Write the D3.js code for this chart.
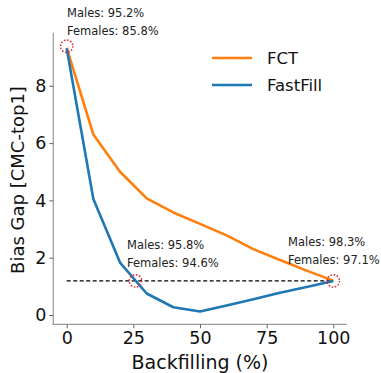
<!DOCTYPE html>
<html>
<head>
<meta charset="utf-8">
<script src="https://cdn.jsdelivr.net/npm/d3@7"></script>
<style>
  body { margin: 0; background: #fff; }
  text { font-family: "DejaVu Sans", sans-serif; }
</style>
</head>
<body>
<div id="chart"></div>
<script>
// values
var backfill = [0, 10, 20, 30, 40, 50, 60, 70, 80, 90, 100];
var fct      = [9.32, 6.3, 5.0, 4.07, 3.58, 3.18, 2.78, 2.3, 1.92, 1.55, 1.2];
var fastfill = [9.3, 4.05, 1.83, 0.75, 0.27, 0.12, 0.33, 0.55, 0.78, 0.98, 1.19];
var xTicks = [0, 25, 50, 75, 100];
var yTicks = [0, 2, 4, 6, 8];
var refGap = 1.19;
var marks = [
  {x: 0,    y: 9.38, males: "Males: 95.2%", females: "Females: 85.8%"},
  {x: 25.8, y: 1.19, males: "Males: 95.8%", females: "Females: 94.6%"},
  {x: 100,  y: 1.19, males: "Males: 98.3%", females: "Females: 97.1%"}
];
var series = [
  {name: "FCT", values: fct, color: "#ff7f0e"},
  {name: "FastFill", values: fastfill, color: "#1f77b4"}
];

var width = 381, height = 373;

var svg = d3.select("#chart").append("svg")
    .attr("width", width)
    .attr("height", height);

var x = d3.scaleLinear().domain([0, 100]).range([66.7, 333.3]);
var y = d3.scaleLinear().domain([0, 8]).range([315, 85.8]);

// spines (offset from the data like sns.despine)
var spineColor = "#999";
svg.append("line")
    .attr("x1", 53.3).attr("x2", 53.3)
    .attr("y1", y(9.85)).attr("y2", 324.5)
    .attr("stroke", spineColor).attr("stroke-width", 1.2);
svg.append("line")
    .attr("x1", 52.7).attr("x2", x(105))
    .attr("y1", 324.3).attr("y2", 324.3)
    .attr("stroke", spineColor).attr("stroke-width", 1.2);

// y axis
var yAxis = svg.append("g")
    .attr("transform", "translate(53.3,0)")
    .call(d3.axisLeft(y).tickValues(yTicks).tickSize(4).tickPadding(3).tickFormat(d3.format("d")));
yAxis.select(".domain").remove();
yAxis.selectAll("line").attr("stroke", "#666");
yAxis.selectAll("text").attr("font-size", 17.5).attr("fill", "#111")
    .attr("font-family", "DejaVu Sans");

// x axis
var xAxis = svg.append("g")
    .attr("transform", "translate(0,324.3)")
    .call(d3.axisBottom(x).tickValues(xTicks).tickSize(4).tickPadding(3).tickFormat(d3.format("d")));
xAxis.select(".domain").remove();
xAxis.selectAll("line").attr("stroke", "#666");
xAxis.selectAll("text").attr("font-size", 17.5).attr("fill", "#111")
    .attr("font-family", "DejaVu Sans");

// axis titles
svg.append("text")
    .attr("x", 200).attr("y", 369)
    .attr("text-anchor", "middle")
    .attr("font-size", 19)
    .attr("fill", "#111")
    .text("Backfilling (%)");
svg.append("text")
    .attr("transform", "translate(24,180) rotate(-90)")
    .attr("text-anchor", "middle")
    .attr("font-size", 18)
    .attr("fill", "#111")
    .text("Bias Gap [CMC-top1]");

// dashed reference line
svg.append("line")
    .attr("x1", x(0)).attr("x2", x(100))
    .attr("y1", y(refGap)).attr("y2", y(refGap))
    .attr("stroke", "#000").attr("stroke-width", 1.1)
    .attr("stroke-dasharray", "4,2.5");

// lines
var line = d3.line()
    .x(function(d, i) { return x(backfill[i]); })
    .y(function(d) { return y(d); });

series.forEach(function(s) {
    svg.append("path")
        .datum(s.values)
        .attr("fill", "none")
        .attr("stroke", s.color)
        .attr("stroke-width", 2.6)
        .attr("stroke-linejoin", "round")
        .attr("d", line);
});

// red dotted circles
svg.selectAll(".mark")
    .data(marks)
    .enter().append("circle")
    .attr("class", "mark")
    .attr("cx", function(d) { return x(d.x); })
    .attr("cy", function(d) { return y(d.y); })
    .attr("r", 6.2)
    .attr("fill", "none")
    .attr("stroke", "#e8202a")
    .attr("stroke-width", 1.4)
    .attr("stroke-dasharray", "1.6,1.6");

// annotations
var notePos = [[67, 17], [127, 249], [288, 246]];
marks.forEach(function(m, i) {
    var g = svg.append("text")
        .attr("font-size", 11.5)
        .attr("fill", "#222");
    g.append("tspan").attr("x", notePos[i][0]).attr("y", notePos[i][1]).text(m.males);
    g.append("tspan").attr("x", notePos[i][0]).attr("y", notePos[i][1] + 18).text(m.females);
});

// legend
var legend = svg.append("g").attr("transform", "translate(212,58)");
series.forEach(function(s, i) {
    legend.append("line")
        .attr("x1", 0).attr("x2", 40)
        .attr("y1", i * 27).attr("y2", i * 27)
        .attr("stroke", s.color).attr("stroke-width", 2.6);
    legend.append("text")
        .attr("x", 55).attr("y", i * 27)
        .attr("dy", "0.35em")
        .attr("font-size", 16.5)
        .attr("fill", "#111")
        .text(s.name);
});
</script>
</body>
</html>
